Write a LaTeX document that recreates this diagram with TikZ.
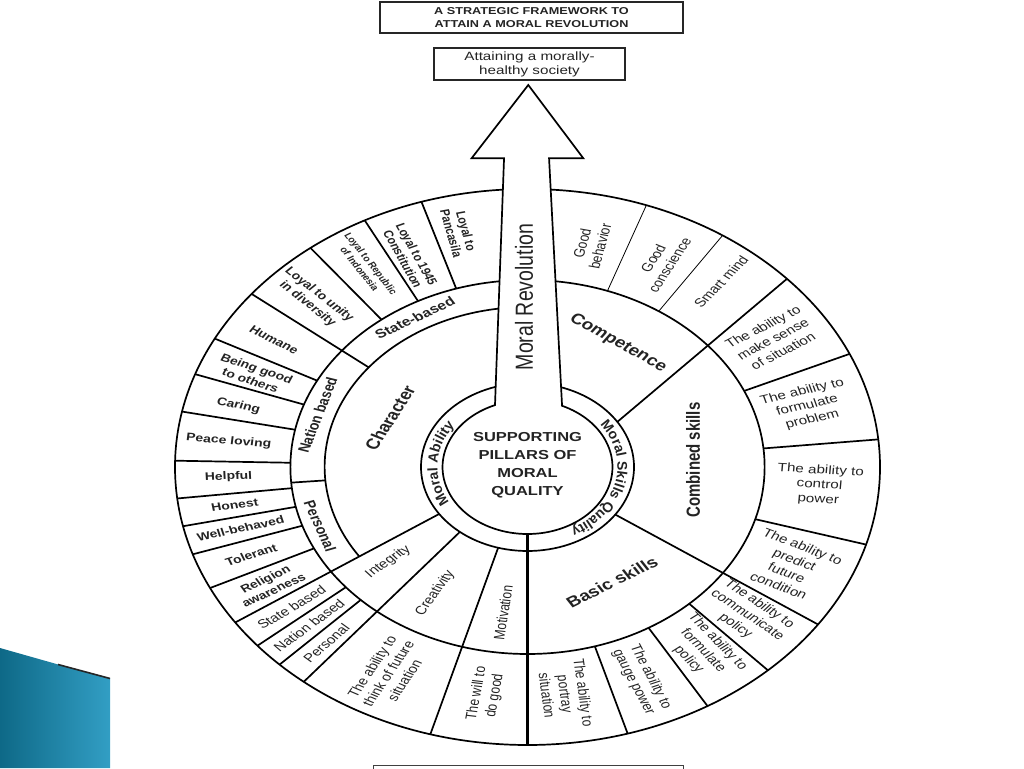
\documentclass[tikz,border=0pt]{standalone}
\usepackage{fontspec}
\setmainfont{Liberation Sans}
\usetikzlibrary{decorations.text}
\definecolor{ink}{HTML}{232323}
\definecolor{tealA}{RGB}{14,105,135}
\definecolor{tealB}{RGB}{50,158,196}
\begin{document}
\begin{tikzpicture}[x=1pt,y=1pt,
  ringline/.style={line width=1.7pt},
  hairline/.style={line width=0.8pt},
  heavyline/.style={line width=3.8pt},
  lab/.style={xscale=1.268, align=center, inner sep=0pt, text=ink},
  lbBold/.style={lab, font=\fontsize{11}{13}\selectfont\bfseries},
  lbReg/.style={lab, font=\fontsize{12}{14.5}\selectfont},
  lbBig/.style={lab, font=\fontsize{15}{17}\selectfont\bfseries},
  lbRing/.style={lab, font=\fontsize{12.5}{14}\selectfont\bfseries}]
\useasboundingbox (0,0) rectangle (1024,768);
\clip (0,0) rectangle (1024,768);

% corner decoration
\shade[left color=tealA, right color=tealB] (0,120) -- (60,103) -- (110,90) -- (110,0) -- (0,0) -- cycle;
\draw[line width=1.6pt, black!85] (58,103.5) -- (110,89.5);

% boxes at top and bottom
\node[lab, draw=black!85, line width=1.4pt, minimum width=239pt, minimum height=31pt,
      font=\fontsize{10}{13}\selectfont\bfseries] (title) at (531.5,750.5)
      {A STRATEGIC FRAMEWORK TO\\ATTAIN A MORAL REVOLUTION};
\node[lab, draw=black!85, line width=1.4pt, minimum width=150.6pt, minimum height=32pt,
      font=\fontsize{12}{14}\selectfont] (goal) at (529.5,704)
      {Attaining a morally-\\healthy society};
\node[draw=black!75, line width=1pt, minimum width=310pt, minimum height=30pt,
      anchor=north west, inner sep=0pt] (nextbox) at (373,3) {};

\coordinate (C) at (527.5,301);

\begin{scope}[shift={(527.5,301)}, xscale=1.268]
  \draw[ringline] (0,0) circle[radius=278];
  \draw[ringline] (0,0) circle[radius=187];
  \draw[ringline] (0,0) circle[radius=84];
  \draw[ringline] (92:160) arc[start angle=92, end angle=214, radius=160];
  \foreach \a in {107.5,117.5,128,152.5,160.5,168.5,178.7,186.5,192.3,198.3,205.8,220,225.3,286.5,300.7,313,343.8,5.7,24}
    \draw[ringline] (\a:187) -- (\a:278);
  \draw[ringline] (141.5:160) -- (141.5:278);
  \draw[ringline] (184.8:160) -- (184.8:187);
  \foreach \a in {214,230.6,254,325.5}
    \draw[ringline] (\a:84) -- (\a:278);
  \draw[ringline] (32.5:84) -- (42.6:278);
  \foreach \a in {56.4,70.3}
    \draw[hairline] (\a:187) -- (\a:278);
  % arrow joined with the hub
  \draw[ringline, fill=white, line join=miter] (112.5:67) arc[start angle=112.5, end angle=426, radius=67]
     -- (17,308.7) -- (44,308.7) -- (0.6,382) -- (-44.1,308.7) -- (-18.5,308.7) -- cycle;
  \draw[heavyline] (270:67) -- (270:278);

  % hub text
  \node[lab, font=\fontsize{13}{18}\selectfont\bfseries] (hub) at (0,2) {SUPPORTING\\PILLARS OF\\MORAL\\QUALITY};
  \node[lab, font=\fontsize{19.5}{20}\selectfont, rotate=90] (rev) at (-2.8,170) {Moral Revolution};

  % middle ring
  \node[lbBig, rotate=-35] (comp) at (71.4,124) {Competence};
  \node[lbBig, rotate=90] (comb) at (130.5,7) {Combined skills};
  \node[lbBig, rotate=32] (basic) at (66.6,-115) {Basic skills};
  \node[lbBig, rotate=63] (char) at (-108.4,49) {Character};
  \node[lbRing, rotate=30.8] (stb) at (120.8:173.5) {State-based};
  \node[lbRing, rotate=72.6] (nab) at (162.6:173.5) {Nation based};
  \node[lbRing, rotate=-70.1] (pers) at (199.9:174) {Personal};
  \node[lbReg, rotate=40.8] (integ) at (220.8:145) {Integrity};
  \node[lbReg, rotate=60] (creat) at (240:145.6) {Creativity};
  \node[lbReg, rotate=82.5] (motiv) at (262.5:147) {Motivation};

  % outer ring, left (bold)
  \node[lbBold, font=\fontsize{10.5}{12}\selectfont\bfseries, rotate=-77] (o1) at (103:241) {Loyal to\\Pancasila};
  \node[lbBold, font=\fontsize{10.5}{12}\selectfont\bfseries, rotate=-66.2] (o2) at (113.8:230) {Loyal to 1945\\Constitution};
  \node[lbBold, font=\fontsize{8.5}{10.5}\selectfont\bfseries, rotate=-58] (o3) at (122.5:238) {Loyal to Republic\\of Indonesia};
  \node[lbBold, rotate=-44.6] (o4) at (135.2:238) {Loyal to unity\\in diversity};
  \node[lbBold, rotate=-32.3] (o5) at (147.5:237) {Humane};
  \node[lbBold, rotate=-23] (o6) at (156.8:235) {Being good\\to others};
  \node[lbBold, rotate=-14.7] (o7) at (165:236) {Caring};
  \node[lbBold, rotate=-5.8] (o8) at (173.8:237) {Peace loving};
  \node[lbBold, rotate=2.4] (o9) at (182.4:236) {Helpful};
  \node[lbBold, rotate=9.4] (o10) at (189.4:234) {Honest};
  \node[lbBold, rotate=14.8] (o11) at (195.2:234.5) {Well-behaved};
  \node[lbBold, rotate=21.5] (o12) at (202:235) {Tolerant};
  \node[lbBold, rotate=30.2] (o13) at (210:235) {Religion\\awareness};

  % outer ring, bottom and right (regular)
  \node[lbReg, rotate=37] (o14) at (217:233) {State based};
  \node[lbReg, rotate=42.4] (o15) at (222.6:234) {Nation based};
  \node[lbReg, rotate=47.6] (o16) at (228:237) {Personal};
  \node[lbReg, rotate=61.7] (o17) at (242:234) {The ability to\\think of future\\situation};
  \node[lbReg, rotate=81.6] (o18) at (261.8:230) {The will to\\do good};
  \node[lbReg, rotate=-83.5] (o19) at (277.5:229) {The ability to\\portray\\situation};
  \node[lbReg, rotate=-67.4] (o20) at (293:231) {The ability to\\gauge power};
  \node[lbReg, rotate=-51.8] (o21) at (307:230) {The ability to\\formulate\\policy};
  \node[lbReg, rotate=-40.2] (o22) at (319.5:228) {The ability to\\communicate\\policy};
  \node[lbReg, rotate=-25.8] (o23) at (334.5:230) {The ability to\\predict\\future\\condition};
  \node[lbReg, rotate=-4] (o24) at (355.5:231) {The ability to\\control\\power};
  \node[lbReg, rotate=16] (o25) at (15.5:229) {The ability to\\formulate\\problem};
  \node[lbReg, rotate=33] (o26) at (33.5:232) {The ability to\\make sense\\of situation};
  \node[lbReg, rotate=51.8] (o27) at (50.5:240) {Smart mind};
  \node[lbReg, rotate=62.5] (o28) at (62.8:231) {Good\\conscience};
  \node[lbReg, rotate=77.5] (o29) at (77.3:228) {Good\\behavior};
\end{scope}

% curved ring texts
\path[decorate, decoration={text along path, text align=center, text color=ink,
      text={|\fontsize{14}{14}\selectfont\bfseries|Moral Skills Quality}}]
  ([shift={(48:90 and 71)}]C) arc[start angle=48, end angle=-72, x radius=90, y radius=71];
\path[decorate, decoration={text along path, text align=center, text color=ink,
      text={|\fontsize{14}{14}\selectfont\bfseries|Moral Ability}}]
  ([shift={(214:90 and 71)}]C) arc[start angle=214, end angle=140, x radius=90, y radius=71];
\end{tikzpicture}
\end{document}
